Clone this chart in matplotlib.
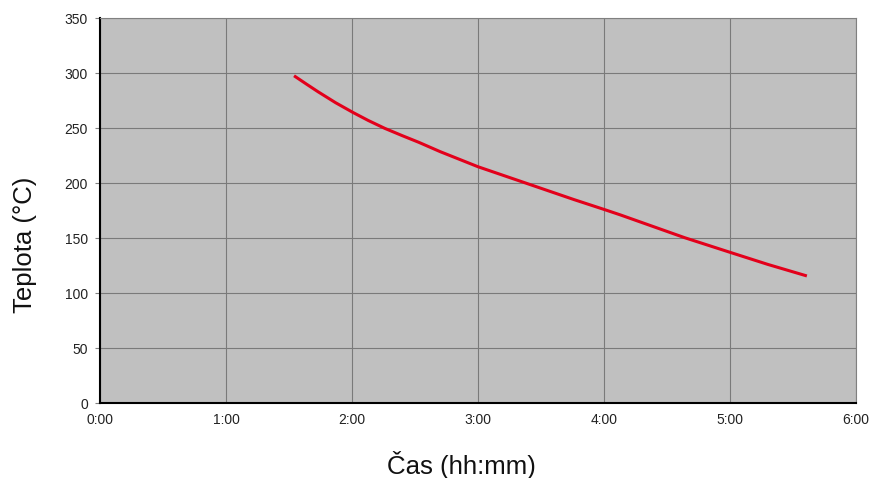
import numpy as np
import matplotlib.pyplot as plt

plt.rcParams['font.family'] = ['Liberation Sans', 'DejaVu Sans']

# cas v hodinach, teplota v °C
cas = [1.54, 1.64, 1.73, 1.87, 2.01, 2.13, 2.26, 2.4, 2.53, 2.7, 3.0,
       3.37, 3.76, 4.0, 4.13, 4.64, 5.0, 5.3, 5.61]
teplota = [297.5, 289.8, 283, 273, 264, 256.8, 249.7, 243, 237, 228.5, 214.8,
           200.3, 185, 176, 171, 150.3, 137, 126, 115.5]

x_ticks = [0, 1, 2, 3, 4, 5, 6]
x_labels = ['0:00', '1:00', '2:00', '3:00', '4:00', '5:00', '6:00']
y_ticks = [0, 50, 100, 150, 200, 250, 300, 350]

fig = plt.figure(figsize=(8.71, 4.78), dpi=100)
ax = fig.add_axes([0.1148, 0.1569, 0.868, 0.8054])
ax.set_facecolor('#c0c0c0')

ax.plot(cas, teplota, color='#e3001b', linewidth=2.2, solid_capstyle='butt',
        solid_joinstyle='round')

ax.set_xlim(0, 6)
ax.set_ylim(0, 350)
ax.set_xticks(x_ticks)
ax.set_xticklabels(x_labels)
ax.set_yticks(y_ticks)
ax.grid(True, color='#7a7a7a', linewidth=0.8)
ax.set_axisbelow(True)

for s in ['top', 'right']:
    ax.spines[s].set_color('#808080')
    ax.spines[s].set_linewidth(0.8)
for s in ['left', 'bottom']:
    ax.spines[s].set_color('black')
    ax.spines[s].set_linewidth(1.5)

ax.tick_params(axis='y', length=3.6, width=0.8, color='#808080', labelsize=10, pad=5, labelcolor='#222222')
ax.tick_params(axis='x', length=0, labelsize=10, pad=7, labelcolor='#222222')

# popisky os
fig.text(461.5 / 871, 1 - 465 / 478, 'Čas (hh:mm)', fontsize=18.5,
         ha='center', va='center', color='#111111')
fig.text(25 / 871, 1 - 245 / 478, 'Teplota (°C)', fontsize=18.5, rotation=90,
         ha='center', va='center', color='#111111')

fig.savefig('out.png', dpi=100)
